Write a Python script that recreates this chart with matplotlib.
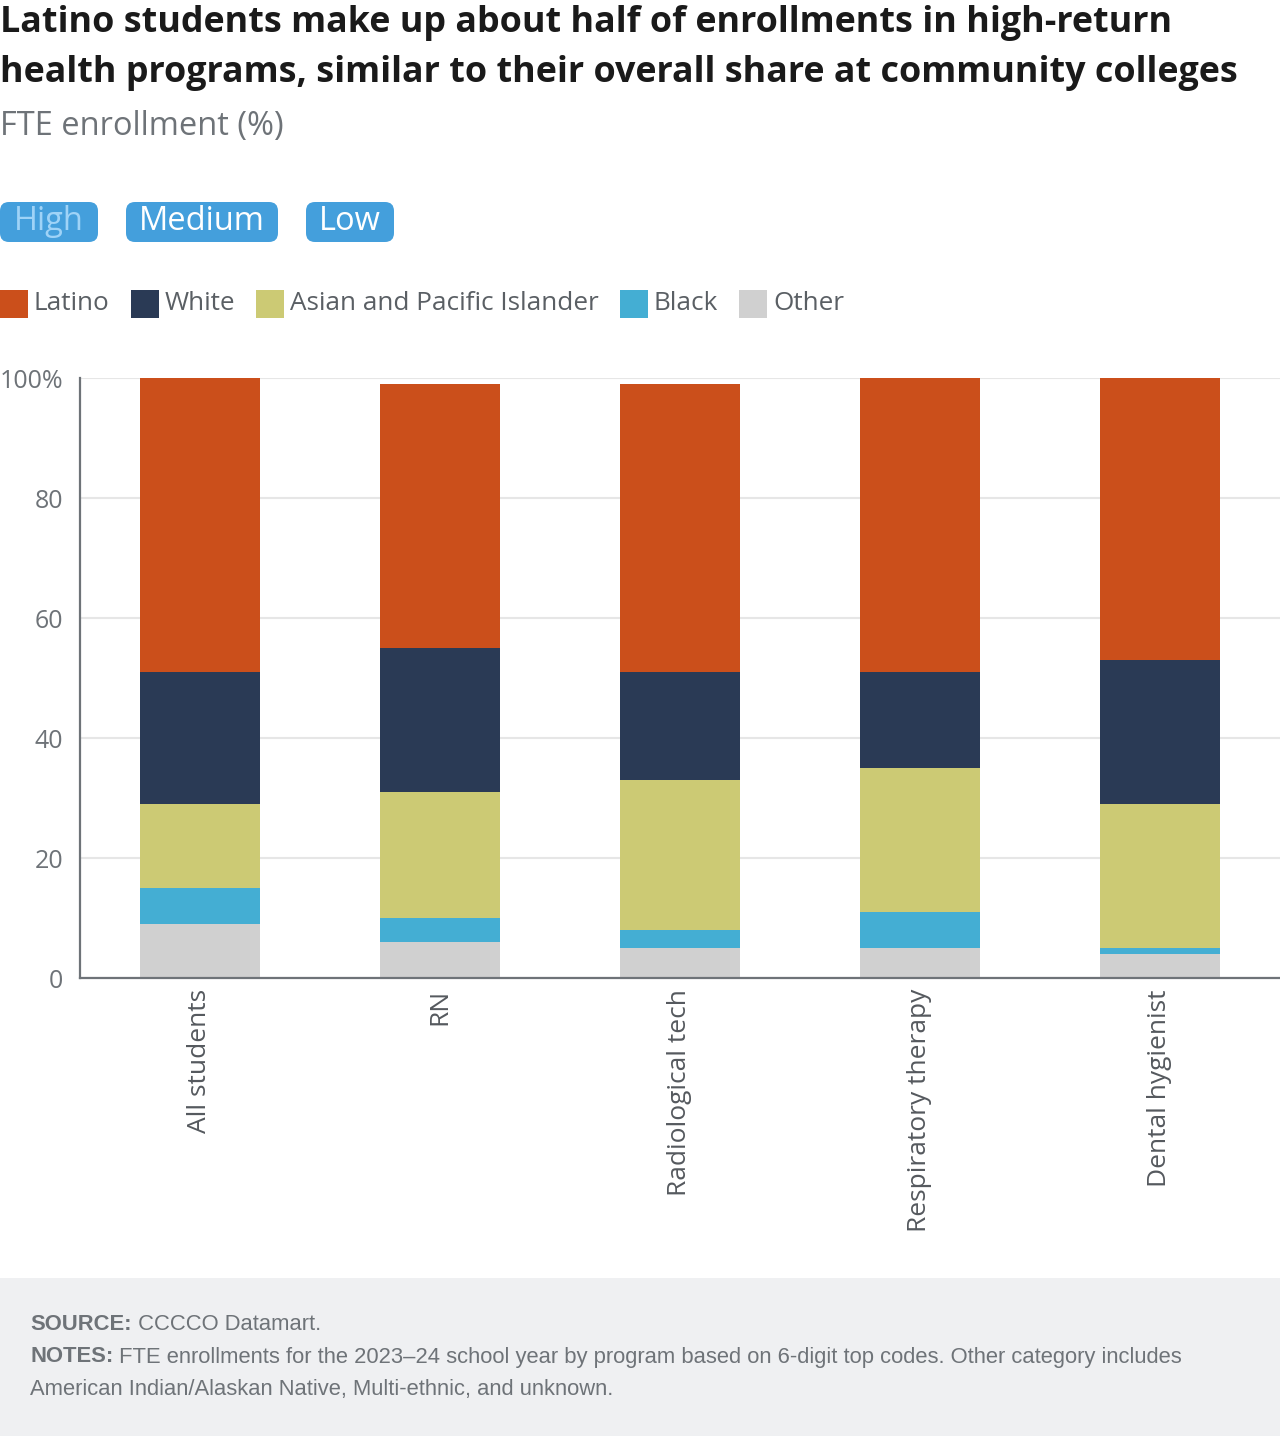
import numpy as np
import matplotlib.pyplot as plt
from matplotlib.patches import FancyBboxPatch, Rectangle

# ─── Data ────────────────────────────────────────────────────────────────────

PROGRAMS = ["All students", "RN", "Radiological tech", "Respiratory therapy", "Dental hygienist"]
GROUPS = ["Latino", "White", "Asian and Pacific Islander", "Black", "Other"]

# stacked bottom -> top: Other, Black, Asian/PI, White, Latino
OTHER = [9, 6, 5, 5, 4]
BLACK = [6, 4, 3, 6, 1]
ASIAN = [14, 21, 25, 24, 24]
WHITE = [22, 24, 18, 16, 24]
LATINO = [49, 44, 48, 49, 47]

Y_TICKS = [0, 20, 40, 60, 80, 100]
Y_TICK_LABELS = ["0", "20", "40", "60", "80", "100%"]
BUTTONS = ["High", "Medium", "Low"]

COLORS = {
    "Latino": "#CB4F1B",
    "White": "#2A3A55",
    "Asian and Pacific Islander": "#CCCA74",
    "Black": "#44AED3",
    "Other": "#D0D0D0",
}
GRAY = "#6E7378"
FONT = ["Open Sans", "DejaVu Sans"]

plt.rcParams["font.family"] = FONT

W, H = 1280, 1436
fig = plt.figure(figsize=(W / 100, H / 100), dpi=100)


def fx(px):
    return px / W


def fy(py):
    return 1 - py / H


# ─── Title block ─────────────────────────────────────────────────────────────

fig.text(fx(0), fy(23), "Latino students make up about half of enrollments in high-return",
         fontsize=25.8, fontweight="bold", color="#1A1A1A", va="center", ha="left")
fig.text(fx(0), fy(73), "health programs, similar to their overall share at community colleges",
         fontsize=25.8, fontweight="bold", color="#1A1A1A", va="center", ha="left")
fig.text(fx(0), fy(127), "FTE enrollment (%)", fontsize=23.5, color=GRAY, va="center", ha="left")

# toggle buttons
btn_boxes = [(0, 98), (126, 278), (306, 394)]
for (x0, x1), label in zip(btn_boxes, BUTTONS):
    box = FancyBboxPatch((fx(x0), fy(242)), fx(x1 - x0), fy(202) - fy(242),
                         boxstyle="round,pad=0,rounding_size=0.007",
                         transform=fig.transFigure, facecolor="#449FDC",
                         edgecolor="none", mutation_aspect=W / H)
    fig.patches.append(box)
    fig.text(fx((x0 + x1) / 2), fy(222), label, fontsize=23.5,
             color="#9FD3F7" if label == "High" else "white", ha="center", va="center")

# ─── Legend ──────────────────────────────────────────────────────────────────

renderer = fig.canvas.get_renderer()
x = 0
for g in GROUPS:
    fig.patches.append(Rectangle((fx(x), fy(318)), fx(28), fy(290) - fy(318),
                                 transform=fig.transFigure, facecolor=COLORS[g],
                                 edgecolor="none"))
    t = fig.text(fx(x + 34), fy(303), g, fontsize=18.8, color="#5A5F64",
                 ha="left", va="center")
    bb = t.get_window_extent(renderer)
    x = x + 34 + bb.width + 21

# ─── Chart ───────────────────────────────────────────────────────────────────

ax = fig.add_axes([fx(80), fy(978), fx(1200), fy(378) - fy(978)])
xs = np.arange(len(PROGRAMS))
bottom = np.zeros(len(PROGRAMS))
for name, vals in [("Other", OTHER), ("Black", BLACK),
                   ("Asian and Pacific Islander", ASIAN),
                   ("White", WHITE), ("Latino", LATINO)]:
    ax.bar(xs, vals, width=0.5, bottom=bottom, color=COLORS[name], zorder=3)
    bottom += np.array(vals)

ax.set_xlim(-0.5, len(PROGRAMS) - 0.5)
ax.set_ylim(0, 100)
ax.set_yticks(Y_TICKS)
ax.set_yticklabels(Y_TICK_LABELS)
ax.grid(axis="y", color="#E6E6E6", linewidth=1.5, zorder=0)
ax.set_xticks(xs)
ax.set_xticklabels(PROGRAMS, rotation=90, ha="center", va="top")
ax.tick_params(axis="y", length=0, pad=12, labelsize=18, labelcolor=GRAY)
ax.tick_params(axis="x", length=0, pad=8, labelsize=19, labelcolor="#55595E")
for s in ["top", "right"]:
    ax.spines[s].set_visible(False)
for s in ["left", "bottom"]:
    ax.spines[s].set_color(GRAY)
    ax.spines[s].set_linewidth(1.6)
    ax.spines[s].set_zorder(4)

# ─── Footer ──────────────────────────────────────────────────────────────────

fig.patches.append(Rectangle((0, 0), 1, fy(1278), transform=fig.transFigure,
                             facecolor="#EFF0F2", edgecolor="none"))
foot = ["Liberation Sans", "DejaVu Sans"]
lines = [
    ("SOURCE:", " CCCCO Datamart.", 1325),
    ("NOTES:", " FTE enrollments for the 2023\u201324 school year by program based on 6-digit top codes. Other category includes", 1357),
    ("", "American Indian/Alaskan Native, Multi-ethnic, and unknown.", 1389),
]
for head, body, y in lines:
    xpos = fx(30)
    if head:
        t = fig.text(xpos, fy(y), head, fontsize=15.8, fontweight="bold", color=GRAY,
                     family=foot, ha="left", va="center")
        xpos = fx(30 + t.get_window_extent(renderer).width)
    fig.text(xpos, fy(y), body, fontsize=15.8, color=GRAY, family=foot,
             ha="left", va="center")

fig.savefig("out.png", dpi=100)
